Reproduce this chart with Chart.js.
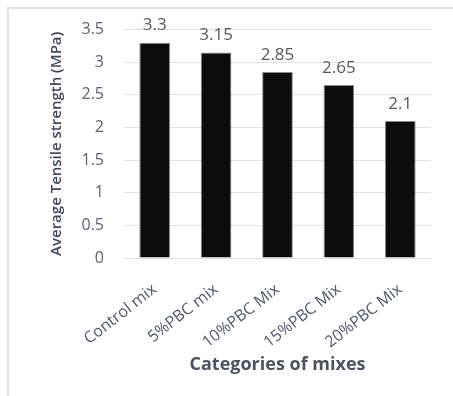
<!DOCTYPE html>
<html lang="en">
<head>
    <meta charset="UTF-8">
    <title>Average Tensile strength</title>
    <script src="https://cdn.jsdelivr.net/npm/chart.js"></script>
    <style>
        * { margin: 0; padding: 0; box-sizing: border-box; }
        body { width: 453px; height: 396px; background: #fff; overflow: hidden; position: relative; }
        /* light frame, cut off at right and bottom like the source */
        .frame {
            position: absolute; left: 7px; top: 7px; width: 460px; height: 400px;
            border-top: 2px solid #dde3ea; border-left: 2px solid #dde3ea;
        }
        .chart-box { position: absolute; left: 0; top: 0; width: 453px; height: 396px; }
    </style>
</head>
<body>
    <div class="frame"></div>
    <div class="chart-box"><canvas id="mixChart"></canvas></div>

    <script>
        // data
        const categories = ['Control mix', '5%PBC mix', '10%PBC Mix', '15%PBC Mix', '20%PBC Mix'];
        const strengthValues = [3.3, 3.15, 2.85, 2.65, 2.1];
        const yTicks = [0, 0.5, 1, 1.5, 2, 2.5, 3, 3.5];

        const FONT = "'Open Sans', 'DejaVu Sans', sans-serif";

        // value labels above bars
        const valueLabels = {
            id: 'valueLabels',
            afterDatasetsDraw(chart) {
                const ctx = chart.ctx;
                const meta = chart.getDatasetMeta(0);
                ctx.save();
                ctx.font = '17px ' + FONT;
                ctx.fillStyle = '#595959';
                ctx.textAlign = 'center';
                ctx.textBaseline = 'middle';
                meta.data.forEach((bar, i) => {
                    ctx.fillText(String(strengthValues[i]), bar.x, bar.y - 17);
                });
                ctx.restore();
            }
        };

        const ctx = document.getElementById('mixChart').getContext('2d');
        const mixChart = new Chart(ctx, {
            type: 'bar',
            data: {
                labels: categories,
                datasets: [{
                    data: strengthValues,
                    backgroundColor: '#0d0d0d',
                    borderColor: '#8a8a8a',
                    borderWidth: 1,
                    categoryPercentage: 1,
                    barPercentage: 0.5
                }]
            },
            options: {
                responsive: true,
                maintainAspectRatio: false,
                animation: false,
                layout: { padding: { left: 44, right: 22, top: 29, bottom: 16 } },
                plugins: {
                    legend: { display: false },
                    tooltip: { enabled: false }
                },
                scales: {
                    x: {
                        grid: { display: false },
                        border: { display: false },
                        ticks: {
                            autoSkip: false,
                            minRotation: 38,
                            maxRotation: 38,
                            padding: 14,
                            color: '#4d5b6e',
                            font: { family: FONT, size: 16 }
                        },
                        title: {
                            display: true,
                            text: 'Categories of mixes',
                            color: '#4a5363',
                            font: { family: FONT, size: 18, weight: 'bold' }
                        },
                        afterFit: s => { s.height = 396 - 16 - 258; }
                    },
                    y: {
                        min: 0,
                        max: 3.5,
                        afterBuildTicks: s => { s.ticks = yTicks.map(v => ({ value: v })); },
                        grid: { color: '#dde3ea', drawTicks: false },
                        border: { display: false },
                        ticks: {
                            padding: 20,
                            color: '#5b6475',
                            font: { family: FONT, size: 16 },
                            callback: v => String(v)
                        },
                        title: {
                            display: true,
                            text: 'Average Tensile strength (MPa)',
                            color: '#3f4a5a',
                            font: { family: FONT, size: 15, weight: '600' }
                        },
                        afterFit: s => { s.width = 124 - 44; }
                    }
                }
            },
            plugins: [valueLabels]
        });
    </script>
</body>
</html>
